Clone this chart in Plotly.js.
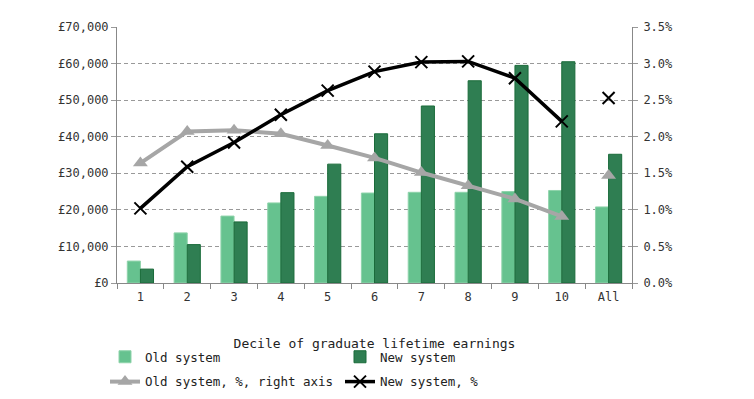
<!DOCTYPE html>
<html>
<head>
<meta charset="utf-8">
<script src="https://cdn.plot.ly/plotly-3.0.1.min.js"></script>
<style>html,body{margin:0;padding:0;background:#fff;}#chart{width:754px;height:399px;}</style>
</head>
<body>
<div id="chart"></div>
<script>
// Data
var deciles = ['1','2','3','4','5','6','7','8','9','10','All'];
var oldEarnings = [6000, 13700, 18300, 21900, 23700, 24600, 24800, 24800, 25000, 25300, 20800];
var newEarnings = [3800, 10500, 16700, 24700, 32500, 40800, 48400, 55300, 59500, 60500, 35200];
var oldPct = [1.64, 2.07, 2.09, 2.04, 1.88, 1.71, 1.51, 1.33, 1.15, 0.91, 1.47];
var newPct = [1.02, 1.59, 1.92, 2.30, 2.63, 2.89, 3.02, 3.03, 2.80, 2.21, 2.53];

var n = deciles.length;
var decOnly = deciles.slice(0, n - 1);
var allCat = deciles.slice(n - 1);

var mono = 'DejaVu Sans Mono, monospace';
var oldGreen = '#66C28F', newGreen = '#2F7E52';

var traces = [
  {type:'bar', name:'Old system', x:deciles, y:oldEarnings, legend:'legend',
   marker:{color:oldGreen, line:{color:'#8ED3AA', width:1}}},
  {type:'bar', name:'New system', x:deciles, y:newEarnings, legend:'legend',
   marker:{color:newGreen, line:{color:'#1A6B3A', width:1}}},
  {type:'scatter', mode:'lines+markers', name:'Old system, %, right axis', yaxis:'y2',
   x:decOnly, y:oldPct.slice(0, n - 1), legend:'legend2',
   line:{color:'#A6A6A6', width:4}, marker:{symbol:'triangle-up', size:13, color:'#A6A6A6'}},
  {type:'scatter', mode:'markers', name:'Old system, %, right axis', yaxis:'y2', showlegend:false,
   x:allCat, y:oldPct.slice(n - 1), legend:'legend2',
   marker:{symbol:'triangle-up', size:13, color:'#A6A6A6'}},
  {type:'scatter', mode:'lines+markers', name:'New system, %', yaxis:'y2',
   x:decOnly, y:newPct.slice(0, n - 1), legend:'legend2',
   line:{color:'#000000', width:3.5}, marker:{symbol:'x-thin', size:12, line:{color:'#000', width:2}}},
  {type:'scatter', mode:'markers', name:'New system, %', yaxis:'y2', showlegend:false,
   x:allCat, y:newPct.slice(n - 1), legend:'legend2',
   marker:{symbol:'x-thin', size:12, line:{color:'#000', width:2}}}
];

var legendBase = {orientation:'h', x:-0.0233, xanchor:'left', yanchor:'top',
  entrywidth:190, itemwidth:30, traceorder:'normal',
  font:{family:mono, size:12.5, color:'#222'}, bgcolor:'rgba(0,0,0,0)'};

var layout = {
  width:754, height:399,
  margin:{l:117, r:122, t:27, b:116, autoexpand:false},
  paper_bgcolor:'#fff', plot_bgcolor:'#fff',
  font:{family:mono, size:12, color:'#333'},
  barmode:'group', bargap:0.44, bargroupgap:0,
  showlegend:true,
  xaxis:{type:'category', range:[-0.5, 10.5], showline:true, linecolor:'#888', linewidth:1,
    ticks:'outside', tickson:'boundaries', ticklen:5, tickcolor:'#888', ticklabelstandoff:3,
    showgrid:false, tickfont:{family:mono, size:12, color:'#333'},
    title:{text:'Decile of graduate lifetime earnings', font:{family:mono, size:13, color:'#222'}, standoff:35}},
  yaxis:{range:[0,70000], dtick:10000, tickprefix:'£', tickformat:',d',
    showline:true, linecolor:'#888', ticks:'outside', ticklen:5, tickcolor:'#999',
    showgrid:true, gridcolor:'#999', griddash:'4px,3px', gridwidth:1, zeroline:false,
    tickfont:{family:mono, size:12, color:'#333'}},
  yaxis2:{overlaying:'y', side:'right', range:[0,3.5], dtick:0.5, tickformat:'.1f', ticksuffix:'%',
    showline:true, linecolor:'#888', ticks:'outside', ticklen:5, tickcolor:'#999', ticklabelstandoff:3,
    showgrid:false, zeroline:false, tickfont:{family:mono, size:12, color:'#333'}},
  legend:Object.assign({}, legendBase, {y:-0.231}),
  legend2:Object.assign({}, legendBase, {y:-0.328})
};

Plotly.newPlot('chart', traces, layout, {displayModeBar:false, staticPlot:true});
</script>
</body>
</html>
